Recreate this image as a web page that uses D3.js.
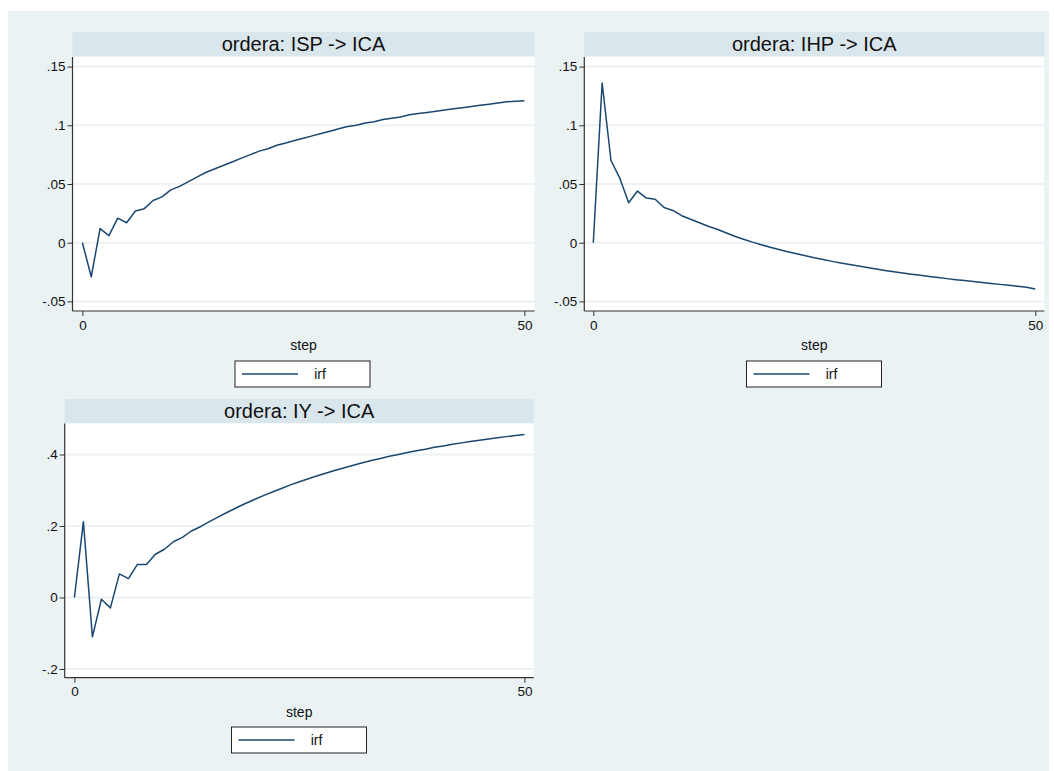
<!DOCTYPE html>
<html><head><meta charset="utf-8">
<script src="https://cdn.jsdelivr.net/npm/d3@7"></script>
<style>
html,body{margin:0;padding:0;background:#fff;}
svg{display:block;font-family:"Liberation Sans",Arial,sans-serif;}
</style></head>
<body>
<svg id="chart" width="1054" height="771"></svg>
<script>
// ---------- data ----------
const steps = d3.range(0, 51);
const titles = ["ordera: ISP -> ICA", "ordera: IHP -> ICA", "ordera: IY -> ICA"];
const legendLabel = "irf";
const xTickValues = [0, 50];
const xTitle = "step";

const irfISP = [0, -0.029, 0.012, 0.006, 0.021, 0.017, 0.027, 0.029, 0.036, 0.039,
  0.045, 0.048, 0.052, 0.056, 0.060, 0.063, 0.066, 0.069, 0.072, 0.075,
  0.078, 0.080, 0.083, 0.085, 0.087, 0.089, 0.091, 0.093, 0.095, 0.097,
  0.099, 0.100, 0.102, 0.103, 0.105, 0.106, 0.107, 0.109, 0.110, 0.111,
  0.112, 0.113, 0.114, 0.115, 0.116, 0.117, 0.118, 0.119, 0.120, 0.1205, 0.121];

const irfIHP = [0, 0.136, 0.070, 0.055, 0.034, 0.044, 0.038, 0.037, 0.030, 0.0275,
  0.023, 0.020, 0.017, 0.014, 0.0115, 0.0085, 0.0055, 0.003, 0.0005, -0.0017,
  -0.0038, -0.0058, -0.0077, -0.0095, -0.0112, -0.0128, -0.0144, -0.0159, -0.0173, -0.0186,
  -0.0199, -0.0212, -0.0224, -0.0236, -0.0247, -0.0258, -0.0268, -0.0278, -0.0288, -0.0297,
  -0.0306, -0.0315, -0.0323, -0.0331, -0.0339, -0.0347, -0.0355, -0.0363, -0.0371, -0.0379, -0.0395];

const irfIY = [0, 0.212, -0.110, -0.005, -0.029, 0.066, 0.053, 0.0925, 0.0925, 0.121,
  0.135, 0.156, 0.168, 0.186, 0.198, 0.212, 0.2255, 0.2385, 0.251, 0.263,
  0.274, 0.285, 0.295, 0.305, 0.315, 0.324, 0.332, 0.3405, 0.348, 0.356,
  0.363, 0.370, 0.377, 0.383, 0.389, 0.395, 0.400, 0.4055, 0.4105, 0.415,
  0.420, 0.424, 0.4285, 0.4325, 0.4365, 0.440, 0.4435, 0.447, 0.450, 0.453, 0.456];

const yTicksISP = [-0.05, 0, 0.05, 0.1, 0.15];
const yLabelsISP = ["-.05", "0", ".05", ".1", ".15"];
const yTicksIHP = [-0.05, 0, 0.05, 0.1, 0.15];
const yLabelsIHP = ["-.05", "0", ".05", ".1", ".15"];
const yTicksIY = [-0.2, 0, 0.2, 0.4];
const yLabelsIY = ["-.2", "0", ".2", ".4"];

// ---------- layout (positions only) ----------
const layout = [
  {values: irfISP, ticks: yTicksISP, labels: yLabelsISP, yRef: [-0.05, 0.15],
   px: [82.4, 524.4], py: [301.4, 66.6], box: {x0: 72.5, x1: 534.5, y0: 57, y1: 311},
   strip: {y0: 32, y1: 56}, legend: {x: 235, y: 361, w: 135, h: 26}},
  {values: irfIHP, ticks: yTicksIHP, labels: yLabelsIHP, yRef: [-0.05, 0.15],
   px: [593.3, 1035.3], py: [301.4, 66.6], box: {x0: 584.3, x1: 1044.3, y0: 57, y1: 311},
   strip: {y0: 32, y1: 56}, legend: {x: 746.5, y: 361, w: 135, h: 26}},
  {values: irfIY, ticks: yTicksIY, labels: yLabelsIY, yRef: [-0.2, 0.4],
   px: [74.4, 524.4], py: [669, 454.5], box: {x0: 64.7, x1: 533.7, y0: 423.5, y1: 677.7},
   strip: {y0: 399, y1: 423}, legend: {x: 231.5, y: 727, w: 135, h: 26}}
];

const colors = {bg: "#EAF2F3", strip: "#D9E6EB", grid: "#EAF2F3", line: "#1A476F", axis: "#333", text: "#111"};

const svg = d3.select("#chart");
svg.append("rect").attr("x", 8).attr("y", 11).attr("width", 1041).attr("height", 760).attr("fill", colors.bg);

layout.forEach((p, i) => {
  const g = svg.append("g");
  const x = d3.scaleLinear().domain([0, 50]).range(p.px);
  const y = d3.scaleLinear().domain(p.yRef).range(p.py);
  const b = p.box;

  // title strip
  g.append("rect").attr("x", b.x0).attr("y", p.strip.y0).attr("width", b.x1 - b.x0)
    .attr("height", p.strip.y1 - p.strip.y0).attr("fill", colors.strip);
  g.append("text").attr("x", (b.x0 + b.x1) / 2).attr("y", (p.strip.y0 + p.strip.y1) / 2)
    .attr("dy", "0.36em").attr("text-anchor", "middle").attr("font-size", 20)
    .attr("fill", colors.text).text(titles[i]);

  // plot area
  g.append("rect").attr("x", b.x0).attr("y", b.y0).attr("width", b.x1 - b.x0)
    .attr("height", b.y1 - b.y0).attr("fill", "#fff");

  // gridlines
  g.selectAll(".grid").data(p.ticks).join("line")
    .attr("x1", b.x0).attr("x2", b.x1)
    .attr("y1", d => y(d)).attr("y2", d => y(d))
    .attr("stroke", colors.grid).attr("stroke-width", 2);

  // y axis
  const yAxis = d3.axisLeft(y).tickValues(p.ticks).tickFormat((d, k) => p.labels[k])
    .tickSize(5).tickPadding(2);
  const ya = g.append("g").attr("transform", `translate(${b.x0},0)`).call(yAxis);
  ya.select(".domain").remove();
  ya.selectAll("line").attr("stroke", colors.axis);
  ya.selectAll("text").attr("font-size", 13.5).attr("fill", colors.text)
    .attr("font-family", "Liberation Sans, Arial, sans-serif");
  g.append("line").attr("x1", b.x0).attr("x2", b.x0).attr("y1", b.y0).attr("y2", b.y1)
    .attr("stroke", colors.axis).attr("stroke-width", 1.2);

  // x axis
  const xAxis = d3.axisBottom(x).tickValues(xTickValues).tickFormat(d3.format("d"))
    .tickSize(5).tickPadding(4);
  const xa = g.append("g").attr("transform", `translate(0,${b.y1})`).call(xAxis);
  xa.select(".domain").remove();
  xa.selectAll("line").attr("stroke", colors.axis);
  xa.selectAll("text").attr("font-size", 13.5).attr("fill", colors.text)
    .attr("font-family", "Liberation Sans, Arial, sans-serif");
  g.append("line").attr("x1", b.x0).attr("x2", b.x1).attr("y1", b.y1).attr("y2", b.y1)
    .attr("stroke", colors.axis).attr("stroke-width", 1.2);

  g.append("text").attr("x", (b.x0 + b.x1) / 2).attr("y", b.y1 + 34)
    .attr("dy", "0.36em").attr("text-anchor", "middle").attr("font-size", 14)
    .attr("fill", colors.text).text(xTitle);

  // series
  const line = d3.line().x((d, k) => x(steps[k])).y(d => y(d));
  g.append("path").datum(p.values).attr("d", line).attr("fill", "none")
    .attr("stroke", colors.line).attr("stroke-width", 1.5).attr("stroke-linejoin", "round");

  // legend
  const L = p.legend;
  g.append("rect").attr("x", L.x).attr("y", L.y).attr("width", L.w).attr("height", L.h)
    .attr("fill", "#fff").attr("stroke", "#222").attr("stroke-width", 1);
  g.append("line").attr("x1", L.x + 7).attr("x2", L.x + 63).attr("y1", L.y + L.h / 2).attr("y2", L.y + L.h / 2)
    .attr("stroke", colors.line).attr("stroke-width", 1.5);
  g.append("text").attr("x", L.x + 85).attr("y", L.y + L.h / 2).attr("dy", "0.36em")
    .attr("text-anchor", "middle").attr("font-size", 14).attr("fill", colors.text).text(legendLabel);
});
</script>
</body></html>
